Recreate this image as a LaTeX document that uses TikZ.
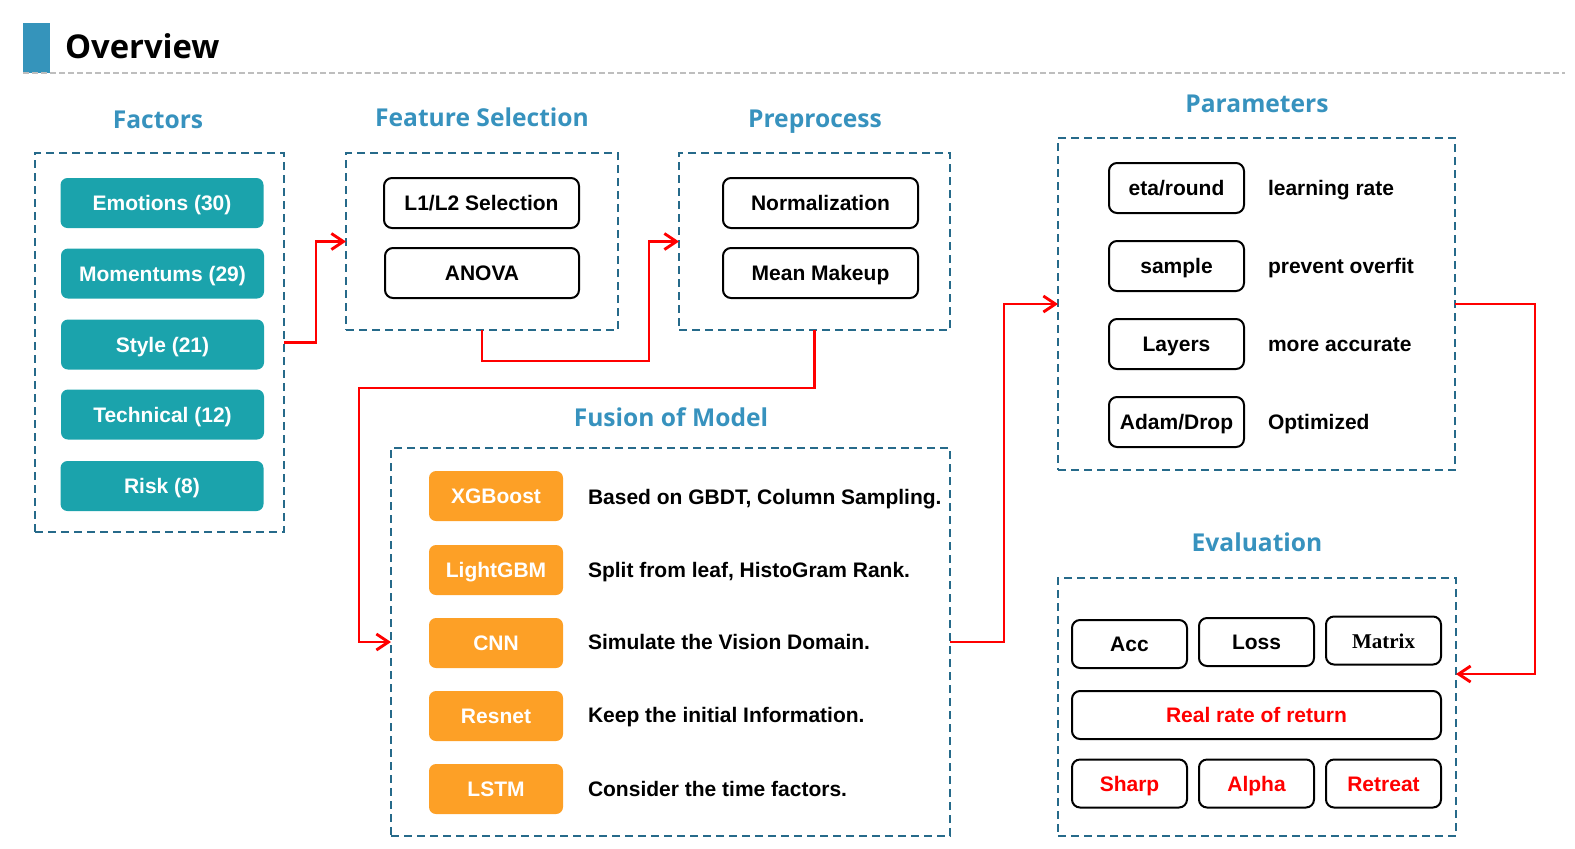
\documentclass[tikz,border=0pt]{standalone}
\usepackage{fontspec}
\setmainfont{Liberation Sans}
\newfontfamily\headfont{Open Sans}
\newfontfamily\serifbold{Liberation Serif}
\usetikzlibrary{arrows.meta}
\definecolor{headblue}{RGB}{55,146,190}
\definecolor{titleblue}{RGB}{53,148,187}
\definecolor{dashblue}{RGB}{38,106,138}
\definecolor{tealbox}{RGB}{27,163,172}
\definecolor{orangebox}{RGB}{253,160,38}
\definecolor{rulegray}{RGB}{190,190,190}
\begin{document}
\begin{tikzpicture}[x=0.5pt,y=-0.5pt,
 every node/.style={inner sep=0pt, outer sep=0pt},
 txt/.style={font=\fontsize{10.5pt}{12pt}\selectfont\bfseries, text height=7.6pt, text depth=0pt},
 heading/.style={font=\headfont\fontsize{12.3pt}{14pt}\selectfont\bfseries, text=headblue, anchor=base},
 group/.style={draw=dashblue, line width=1pt, dash pattern=on 4pt off 2.5pt},
 tealnode/.style={txt, fill=tealbox, text=white, rounded corners=3.5pt, minimum width=101.5pt, minimum height=25pt},
 orangenode/.style={txt, fill=orangebox, text=white, rounded corners=3.5pt, minimum width=67pt, minimum height=25pt},
 wbox/.style={txt, draw=black, line width=1pt, fill=white, rounded corners=4pt},
 smallbox/.style={wbox, minimum width=57.5pt, minimum height=24pt},
 desc/.style={txt, anchor=west},
 flow/.style={draw=red, line width=1.45pt, -{Straight Barb[length=6pt,width=8pt]}},
]
\useasboundingbox (0,0) rectangle (1575,848);

% title
\node[fill=titleblue, minimum width=13.5pt, minimum height=25pt] (bar) at (36.5,48) {};
\node[anchor=base west, font=\headfont\fontsize{16.4pt}{20pt}\selectfont\bfseries] (title) at (65,58) {Overview};
\coordinate (ruleA) at (23,73);
\coordinate (ruleB) at (1565,73);
\draw[rulegray, line width=0.75pt, dash pattern=on 3pt off 1.5pt] (ruleA) -- (ruleB);

% headings
\node[heading] (hfac) at (158,128) {Factors};
\node[heading] (hfeat) at (482,126) {Feature Selection};
\node[heading] (hpre) at (815,127) {Preprocess};
\node[heading] (hpar) at (1257,112) {Parameters};
\node[heading] (hfus) at (671,426) {Fusion of Model};
\node[heading] (heva) at (1257,551) {Evaluation};

% group boxes
\node[group, minimum width=124.5pt, minimum height=189.5pt] (fac) at (159.5,342.5) {};
\node[group, minimum width=136pt, minimum height=88.5pt] (feat) at (482,241.5) {};
\node[group, minimum width=135.5pt, minimum height=88.5pt] (pre) at (814.5,241.5) {};
\node[group, minimum width=198.5pt, minimum height=166pt] (par) at (1256.5,304) {};
\node[group, minimum width=199pt, minimum height=129pt] (eva) at (1257,707) {};
\node[group, minimum width=279.5pt, minimum height=194pt] (fus) at (670.5,642) {};

% factors
\node[tealnode] (f1) at (162,203) {Emotions (30)};
\node[tealnode] (f2) at (162.5,273.5) {Momentums (29)};
\node[tealnode] (f3) at (162.5,344.5) {Style (21)};
\node[tealnode] (f4) at (162.5,414.5) {Technical (12)};
\node[tealnode] (f5) at (162,486) {Risk (8)};

% feature selection
\node[wbox, minimum width=97.5pt, minimum height=25pt] (s1) at (481.5,203) {L1/L2 Selection};
\node[wbox, minimum width=97pt, minimum height=25pt] (s2) at (482,273) {ANOVA};

% preprocess
\node[wbox, minimum width=97.5pt, minimum height=25pt] (p1) at (820.5,203) {Normalization};
\node[wbox, minimum width=97.5pt, minimum height=25pt] (p2) at (820.5,273) {Mean Makeup};

% parameters
\node[wbox, minimum width=67.5pt, minimum height=25pt] (k1) at (1176.5,188) {eta/round};
\node[wbox, minimum width=67.5pt, minimum height=25pt] (k2) at (1176.5,266) {sample};
\node[wbox, minimum width=67.5pt, minimum height=25pt] (k3) at (1176.5,344) {Layers};
\node[wbox, minimum width=67.5pt, minimum height=25pt] (k4) at (1176.5,422) {Adam/Drop};
\node[desc] (l1) at (1268,188) {learning rate};
\node[desc] (l2) at (1268,266) {prevent overfit};
\node[desc] (l3) at (1268,344) {more accurate};
\node[desc] (l4) at (1268,422) {Optimized};

% fusion of model
\node[orangenode] (m1) at (496,496) {XGBoost};
\node[orangenode] (m2) at (496,570) {LightGBM};
\node[orangenode] (m3) at (496,643) {CNN};
\node[orangenode] (m4) at (496,716) {Resnet};
\node[orangenode] (m5) at (496,789) {LSTM};
\node[desc] (d1) at (588,497) {Based on GBDT, Column Sampling.};
\node[desc] (d2) at (588,570) {Split from leaf, HistoGram Rank.};
\node[desc] (d3) at (588,642) {Simulate the Vision Domain.};
\node[desc] (d4) at (588,715) {Keep the initial Information.};
\node[desc] (d5) at (588,789) {Consider the time factors.};

% evaluation
\node[smallbox] (e1) at (1129.5,644) {Acc};
\node[smallbox] (e2) at (1256.5,642) {Loss};
\node[smallbox, font=\serifbold\fontsize{10.5pt}{12pt}\selectfont\bfseries] (e3) at (1383.5,640.5) {Matrix};
\node[wbox, minimum width=184.5pt, minimum height=24pt, text=red] (e4) at (1256.5,715) {Real rate of return};
\node[smallbox, text=red] (e5) at (1129.5,783.5) {Sharp};
\node[smallbox, text=red] (e6) at (1256.5,783.5) {Alpha};
\node[smallbox, text=red] (e7) at (1383.5,783.5) {Retreat};

% connectors
\coordinate (c1) at (316,342.5);
\coordinate (c2) at (649,361);
\coordinate (c3) at (359,388);
\coordinate (c4) at (1004,642);
\coordinate (c5) at (1535,674);
\draw[flow] (fac.east) -- (c1) |- (feat.west);
\draw[flow] (feat.south) |- (c2) |- (pre.west);
\draw[flow] (pre.south) |- (c3) |- (fus.west);
\draw[flow] (fus.east) -- (c4) |- (par.west);
\draw[flow] (par.east) -| (c5) -- (c5 -| eva.east);
\end{tikzpicture}
\end{document}
